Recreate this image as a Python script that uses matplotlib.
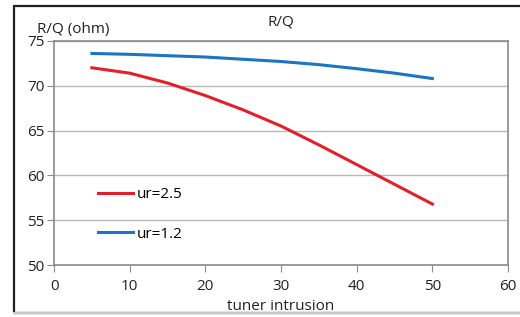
import numpy as np
import matplotlib
matplotlib.use("Agg")
import matplotlib.pyplot as plt
from matplotlib.patches import Rectangle

plt.rcParams['font.family'] = ['Open Sans', 'DejaVu Sans']

# data
intrusion = [5, 10, 15, 20, 25, 30, 35, 40, 45, 50]
rq_ur25 = [72.0, 71.4, 70.3, 68.9, 67.3, 65.5, 63.4, 61.2, 59.0, 56.8]
rq_ur12 = [73.6, 73.5, 73.35, 73.2, 72.95, 72.7, 72.35, 71.9, 71.4, 70.8]

xticks = [0, 10, 20, 30, 40, 50, 60]
yticks = [50, 55, 60, 65, 70, 75]

fig = plt.figure(figsize=(5.2, 3.17), dpi=100)
ax = fig.add_axes([0.104, 0.164, 0.873, 0.707])

# outer chart border (cut off at right/bottom in the reference)
fig.patches.append(Rectangle((14/520, 4/317), 1.2, 1 - 10/317, transform=fig.transFigure,
                             fill=False, edgecolor='#222222', lw=1.6, zorder=0))
fig.add_artist(plt.Line2D([14/520, 1], [4/317, 4/317], transform=fig.transFigure,
                          color='#c8c8c8', lw=1.5))

ax.plot(intrusion, rq_ur25, color='#e3202a', lw=2.2, label='ur=2.5')
ax.plot(intrusion, rq_ur12, color='#1a75c4', lw=2.2, label='ur=1.2')

ax.set_xlim(0, 60)
ax.set_ylim(50, 75)
ax.set_xticks(xticks)
ax.set_yticks(yticks)
ax.grid(axis='y', color='#b8b8b8', lw=1)
ax.set_axisbelow(True)
for s in ax.spines.values():
    s.set_color('#8a8a8a')
    s.set_linewidth(1.2)
ax.tick_params(axis='both', colors='#8a8a8a', labelcolor='#222222', labelsize=11, length=5)
ax.tick_params(axis='y', pad=2)
ax.tick_params(axis='x', pad=5)

ax.set_title('R/Q', fontsize=11, pad=11, color='#222222')
ax.set_xlabel('tuner intrusion', fontsize=11, labelpad=4, color='#222222')
fig.text(37/520, 1 - 30/317, 'R/Q (ohm)', fontsize=11, va='center', ha='left', color='#222222')

leg = ax.legend(loc='upper left', bbox_to_anchor=(0.097, 0.347), frameon=False,
                fontsize=11, handlelength=2.3, handletextpad=0.25, labelspacing=1.6,
                borderaxespad=0, borderpad=0)

fig.savefig('out.png', dpi=100)
